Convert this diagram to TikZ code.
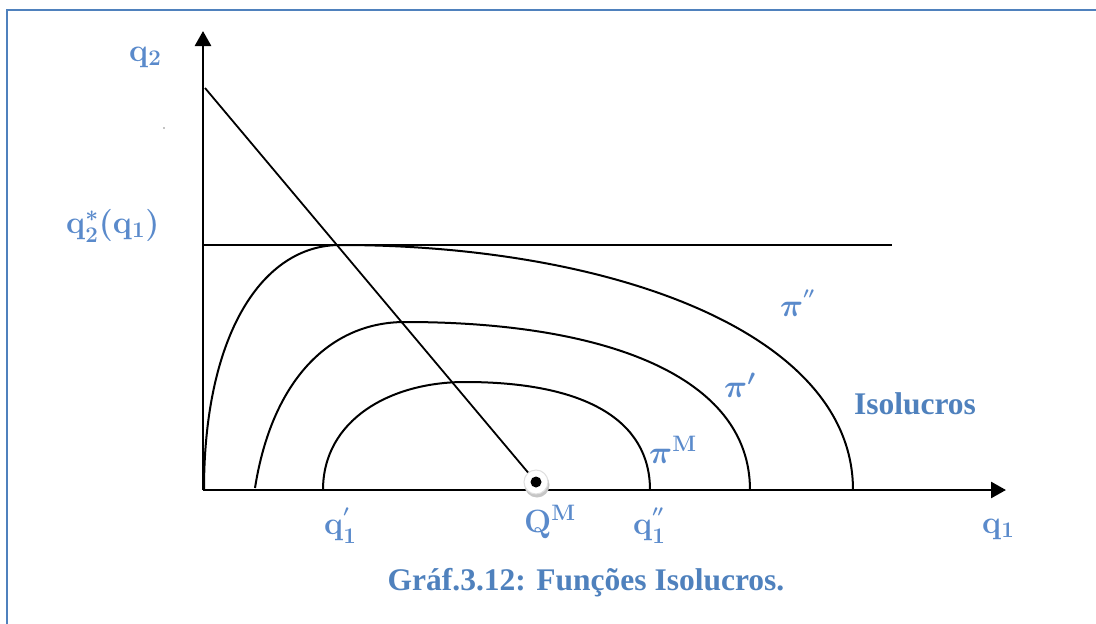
\documentclass[tikz,border=0pt]{standalone}
\usepackage{fontspec}
\usepackage{amsmath}
\usepackage{graphicx}
\newfontfamily\capfont{Liberation Serif}
\usetikzlibrary{arrows.meta,calc}
\definecolor{lblue}{HTML}{4F81BD}
\definecolor{mblue}{HTML}{5A8ACB}
\newcommand{\ML}[1]{\scalebox{1.55}{$#1$}}
\newcommand{\hiprime}[1]{\raisebox{3.5pt}{$\scriptscriptstyle#1$}}
\tikzset{
  axisline/.style={line width=2.7pt,-{Triangle[width=16pt,length=15pt]}},
  curve/.style={line width=2pt},
  thinline/.style={line width=1.8pt},
  mlabel/.style={text=mblue,font=\fontsize{20}{24}\selectfont\boldmath,inner sep=0pt,anchor=base west},
  captext/.style={text=lblue,font=\capfont\bfseries\fontsize{31.5}{36}\selectfont,inner sep=0pt},
}
\begin{document}
\begin{tikzpicture}[x=1pt,y=-1pt]
\useasboundingbox (0,0) rectangle (1096,624);
% frame
\draw[lblue,line width=1.6pt] (7,624) -- (7,10) -- (1096,10);
% axes
\coordinate (O) at (203,490);
\coordinate (ytip) at (203,31);
\coordinate (xtip) at (1006,490);
\draw[axisline] (O) -- (ytip);
\draw[axisline] (O) -- (xtip);
% horizontal reaction line
\coordinate (hl) at (204,245);
\coordinate (hr) at (892,245);
\draw[thinline] (hl) -- (hr);
% isoprofit curves
\draw[curve] (204,490) .. controls (204,335) and (262,245) .. (340,245)
  .. controls (605,245) and (853,330) .. (853,490);
\draw[curve] (255,488) .. controls (272,380) and (330,322) .. (405,322)
  .. controls (605,322) and (750,376) .. (750,490);
\draw[curve] (323,490) .. controls (323,420) and (390,382) .. (465,382)
  .. controls (585,382) and (650,420) .. (650,490);
% diagonal line to monopoly point
\coordinate (dtop) at (205,88);
\coordinate (QM) at (536,482);
\draw[thinline] (dtop) -- (QM);
% monopoly point marker
\fill[gray!45] ($(QM)+(1,3)$) circle (12.5pt);
\filldraw[fill=white,draw=gray!25,line width=1pt] (QM) circle (12pt);
\fill[black] (QM) circle (5.5pt);
% speck
\fill[black] (164,128) circle (0.7pt);
% labels
\node[mlabel] (lq2) at (129,61) {\ML{\mathbf{q}_{\mathbf{2}}}};
\node[mlabel] (lq2s) at (66,233) {\ML{\mathbf{q}_{\mathbf{2}}^{*}(\mathbf{q}_{\mathbf{1}})}};
\node[mlabel] (lq1a) at (324,534) {\ML{\mathbf{q}_{\mathbf{1}}^{\hiprime{\prime}}}};
\node[mlabel] (lQM) at (524,532) {\ML{\mathbf{Q}^{\mathbf{M}}}};
\node[mlabel] (lq1b) at (633,534) {\ML{\mathbf{q}_{\mathbf{1}}^{\hiprime{\prime\prime}}}};
\node[mlabel] (lq1) at (982,533) {\ML{\mathbf{q}_{\mathbf{1}}}};
\node[mlabel] (lpi2) at (780,316) {\ML{\boldsymbol{\pi}^{\hiprime{\prime\prime}}}};
\node[mlabel] (lpi1) at (724,397) {\ML{\boldsymbol{\pi}^{\prime}}};
\node[mlabel] (lpiM) at (649,463) {\ML{\boldsymbol{\pi}^{\mathbf{M}}}};
\node[captext] (iso) at (915,404) {Isolucros};
\node[captext] (cap) at (586,583) {Gráf.3.12: Funções Isolucros.};
\end{tikzpicture}
\end{document}
